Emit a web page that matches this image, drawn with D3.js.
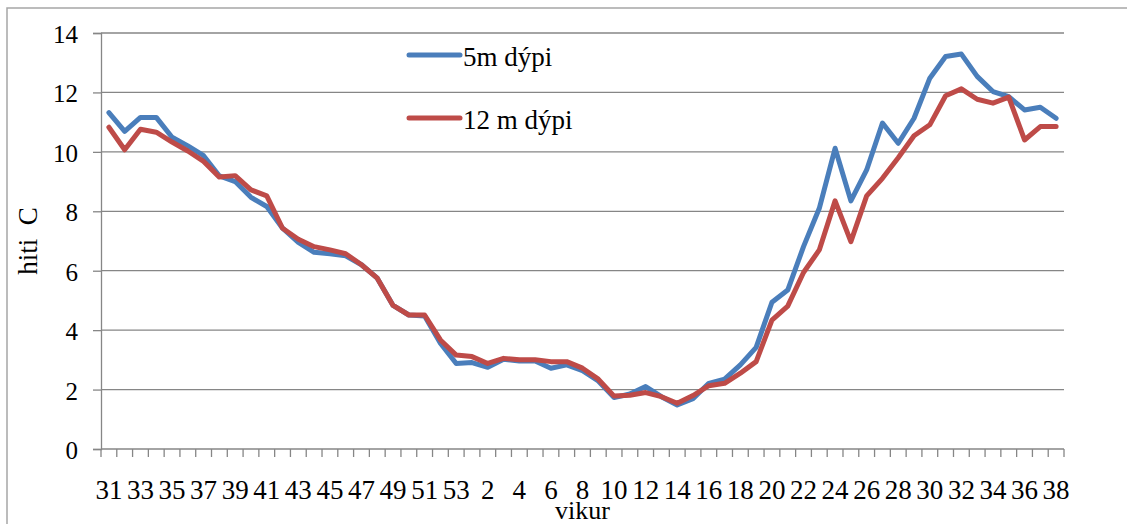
<!DOCTYPE html>
<html>
<head>
<meta charset="utf-8">
<script src="https://cdn.jsdelivr.net/npm/d3@7.9.0/dist/d3.min.js"></script>
<style>
  body { margin: 0; background: #fff; }
  svg text { font-family: 'Liberation Serif', 'DejaVu Serif', 'Times New Roman', serif !important; fill: #000; }
</style>
</head>
<body>
<div id="chart"></div>
<script>
// week numbers (Aug one year -> Sept the next)
const weeks = [31, 32, 33, 34, 35, 36, 37, 38, 39, 40, 41, 42, 43, 44, 45, 46, 47, 48, 49, 50, 51, 52, 53,
  1, 2, 3, 4, 5, 6, 7, 8, 9, 10, 11, 12, 13, 14, 15, 16, 17, 18, 19, 20, 21, 22, 23, 24, 25, 26, 27, 28,
  29, 30, 31, 32, 33, 34, 35, 36, 37, 38];

// temperature at 5 m depth
const temp5m = [11.32, 10.69, 11.16, 11.16, 10.49, 10.2, 9.87, 9.19, 9.0, 8.47, 8.16, 7.43, 6.95, 6.62, 6.57, 6.5,
  6.2, 5.75, 4.83, 4.51, 4.48, 3.56, 2.88, 2.91, 2.75, 3.02, 2.96, 2.96, 2.72, 2.83, 2.64, 2.29, 1.73, 1.85,
  2.1, 1.76, 1.48, 1.69, 2.21, 2.35, 2.83, 3.42, 4.94, 5.35, 6.81, 8.1, 10.12, 8.35, 9.39, 10.97, 10.29,
  11.13, 12.48, 13.21, 13.29, 12.54, 12.03, 11.86, 11.41, 11.5, 11.13];

// temperature at 12 m depth
const temp12m = [10.83, 10.07, 10.76, 10.66, 10.33, 10.03, 9.68, 9.15, 9.2, 8.72, 8.52, 7.43, 7.06, 6.81, 6.7, 6.57,
  6.2, 5.75, 4.83, 4.51, 4.51, 3.67, 3.16, 3.11, 2.88, 3.05, 3.0, 3.0, 2.94, 2.94, 2.72, 2.35, 1.78, 1.81,
  1.9, 1.76, 1.54, 1.8, 2.13, 2.21, 2.55, 2.94, 4.34, 4.81, 5.94, 6.7, 8.35, 6.98, 8.52, 9.11, 9.8,
  10.54, 10.91, 11.89, 12.12, 11.77, 11.64, 11.84, 10.4, 10.85, 10.85];

const yTicks = [0, 2, 4, 6, 8, 10, 12, 14];

const series = [
  { name: '5m dýpi', values: temp5m, color: '#4a7ebb' },
  { name: '12 m dýpi', values: temp12m, color: '#be4b48' }
];

const width = 1127;
const height = 524;
const margin = { top: 33, right: 63, bottom: 75, left: 101 };
const serif = "'Liberation Serif', 'DejaVu Serif', serif";

const svg = d3.select('#chart')
  .append('svg')
  .attr('width', width)
  .attr('height', height)
  .attr('font-family', serif);

// outer frame (only left and top edges fall inside the picture)
svg.append('path')
  .attr('d', `M7,${height + 5}V8H${width + 5}`)
  .attr('fill', 'none')
  .attr('stroke', '#a6a6a6')
  .attr('stroke-width', 1.5);

const idx = d3.range(weeks.length);

const x = d3.scaleBand()
  .domain(idx)
  .range([margin.left, width - margin.right])
  .padding(0);

const y = d3.scaleLinear()
  .domain([0, 14])
  .range([height - margin.bottom, margin.top]);

const cx = i => x(i) + x.bandwidth() / 2;

// gridlines
svg.append('g')
  .selectAll('line')
  .data(yTicks.filter(d => d > 0))
  .join('line')
  .attr('x1', margin.left)
  .attr('x2', width - margin.right)
  .attr('y1', d => y(d))
  .attr('y2', d => y(d))
  .attr('stroke', '#868686')
  .attr('stroke-width', 1.3);

// Y axis
const yAxis = svg.append('g')
  .attr('transform', `translate(${margin.left},0)`)
  .call(d3.axisLeft(y).tickValues(yTicks).tickSize(8).tickPadding(15));
yAxis.attr('font-family', serif);
yAxis.select('.domain').attr('stroke', '#868686').attr('stroke-width', 1.3);
yAxis.selectAll('.tick line').attr('stroke', '#868686').attr('stroke-width', 1.3);
yAxis.selectAll('.tick text')
  .attr('font-size', 25)
  .attr('fill', '#000')
  .attr('dy', '0.38em');

// X axis: tick marks sit on category boundaries
const xAxisG = svg.append('g')
  .attr('transform', `translate(0,${y(0)})`);
xAxisG.append('line')
  .attr('x1', margin.left)
  .attr('x2', width - margin.right)
  .attr('stroke', '#868686')
  .attr('stroke-width', 1.3);
xAxisG.selectAll('line.tk')
  .data(idx.concat([weeks.length]))
  .join('line')
  .attr('class', 'tk')
  .attr('x1', i => i < weeks.length ? x(i) : x(i - 1) + x.bandwidth())
  .attr('x2', i => i < weeks.length ? x(i) : x(i - 1) + x.bandwidth())
  .attr('y1', 0)
  .attr('y2', 8)
  .attr('stroke', '#868686')
  .attr('stroke-width', 1.3);
xAxisG.selectAll('text')
  .data(idx.filter(i => i % 2 === 0))
  .join('text')
  .attr('x', i => cx(i))
  .attr('y', 50)
  .attr('text-anchor', 'middle')
  .attr('font-size', 27)
  .text(i => weeks[i]);

// axis titles
svg.append('text')
  .attr('x', (margin.left + width - margin.right) / 2)
  .attr('y', 519)
  .attr('text-anchor', 'middle')
  .attr('font-size', 26)
  .text('vikur');

svg.append('text')
  .attr('transform', `translate(37,${(y(0) + y(14)) / 2}) rotate(-90)`)
  .attr('text-anchor', 'middle')
  .attr('font-size', 27)
  .style('white-space', 'pre')
  .text('hiti  C');

// lines
const line = d3.line()
  .x((d, i) => cx(i))
  .y(d => y(d));

svg.append('g')
  .selectAll('path')
  .data(series)
  .join('path')
  .attr('d', d => line(d.values))
  .attr('fill', 'none')
  .attr('stroke', d => d.color)
  .attr('stroke-width', 5)
  .attr('stroke-linejoin', 'round')
  .attr('stroke-linecap', 'round');

// legend
const legend = svg.append('g')
  .selectAll('g')
  .data(series)
  .join('g')
  .attr('transform', (d, i) => `translate(409,${55 + i * 63})`);
legend.append('line')
  .attr('x1', 0)
  .attr('x2', 51)
  .attr('stroke', d => d.color)
  .attr('stroke-width', 5)
  .attr('stroke-linecap', 'round');
legend.append('text')
  .attr('x', 54)
  .attr('y', 11)
  .attr('font-size', 27)
  .text(d => d.name);
</script>
</body>
</html>
